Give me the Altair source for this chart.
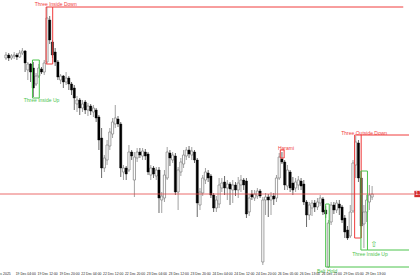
import altair as alt
import pandas as pd

# ---- candle data (H1 bars) ----
open_ = [1.17760,1.17775,1.17760,1.17770,1.17775,1.17765,1.17785,1.17795,1.17700,1.17730,
         1.17710,1.17630,1.17670,1.17705,1.17690,1.17740,1.17950,1.17840,1.17790,1.17740,
         1.17650,1.17670,1.17640,1.17660,1.17630,1.17610,1.17530,1.17550,1.17510,1.17540,
         1.17500,1.17520,1.17490,1.17500,1.17465,1.17360,1.17210,1.17250,1.17320,1.17380,
         1.17430,1.17455,1.17430,1.17190,1.17210,1.17200,1.17290,1.17150,1.17260,1.17290,
         1.17270,1.17290,1.17280,1.17175,1.17210,1.17170,1.17200,1.17050,1.17060,1.17160,
         1.17285,1.17250,1.17270,1.17090,1.17190,1.17230,1.17270,1.17300,1.17275,1.17290,
         1.17250,1.17025,1.17085,1.17150,1.17185,1.17170,1.17075,1.17010,1.17030,1.17110,
         1.17140,1.17110,1.17130,1.17100,1.17125,1.17100,1.17125,1.17150,1.17145,1.16990,
         1.17080,1.17060,1.17070,1.17095,1.16740,1.17050,1.17065,1.17050,1.17070,1.17060,
         1.17160,1.17255,1.17240,1.17120,1.17190,1.17135,1.17110,1.17125,1.17145,1.17130,
         1.17040,1.16975,1.17010,1.17035,1.17015,1.17035,1.17055,1.17000,1.16715,1.16940,
         1.17025,1.17000,1.17030,1.17015,1.16960,1.16900,1.16870,1.16995,1.17225,1.17335,
         1.17160,1.16930,1.16990,1.17040,1.17065]
close = [1.17775,1.17760,1.17770,1.17775,1.17765,1.17785,1.17795,1.17735,1.17730,1.17690,
         1.17610,1.17670,1.17710,1.17690,1.17735,1.17960,1.17850,1.17775,1.17740,1.17665,
         1.17670,1.17640,1.17660,1.17630,1.17600,1.17560,1.17550,1.17510,1.17530,1.17500,
         1.17520,1.17495,1.17510,1.17460,1.17350,1.17210,1.17260,1.17325,1.17390,1.17440,
         1.17460,1.17430,1.17210,1.17210,1.17180,1.17290,1.17270,1.17265,1.17290,1.17275,
         1.17295,1.17270,1.17190,1.17210,1.17180,1.17200,1.17060,1.17070,1.17175,1.17290,
         1.17260,1.17275,1.17090,1.17200,1.17240,1.17275,1.17300,1.17280,1.17295,1.17250,
         1.17035,1.17090,1.17160,1.17190,1.17160,1.17075,1.17010,1.17050,1.17125,1.17135,
         1.17110,1.17130,1.17105,1.17125,1.17100,1.17135,1.17150,1.17125,1.16980,1.17060,
         1.17065,1.17080,1.17095,1.17070,1.17050,1.17065,1.17050,1.17070,1.17055,1.17160,
         1.17265,1.17240,1.17125,1.17200,1.17110,1.17100,1.17140,1.17150,1.17120,1.17040,
         1.16975,1.17025,1.17035,1.17015,1.17040,1.17060,1.16990,1.16980,1.16935,1.17025,
         1.17000,1.17035,1.17010,1.16950,1.16890,1.16860,1.16990,1.17235,1.17340,1.17160,
         1.16920,1.16990,1.17050,1.17075,1.17080]
high = [1.17790,1.17785,1.17780,1.17790,1.17785,1.17800,1.17810,1.17800,1.17740,1.17735,
        1.17740,1.17685,1.17730,1.17715,1.17750,1.18015,1.17970,1.17850,1.17810,1.17750,
        1.17680,1.17675,1.17690,1.17670,1.17640,1.17625,1.17570,1.17560,1.17550,1.17550,
        1.17535,1.17530,1.17525,1.17510,1.17475,1.17410,1.17275,1.17350,1.17410,1.17460,
        1.17525,1.17470,1.17440,1.17225,1.17220,1.17325,1.17300,1.17290,1.17310,1.17310,
        1.17310,1.17305,1.17290,1.17225,1.17220,1.17215,1.17215,1.17090,1.17200,1.17315,
        1.17300,1.17290,1.17285,1.17215,1.17260,1.17300,1.17315,1.17320,1.17315,1.17300,
        1.17260,1.17110,1.17175,1.17210,1.17200,1.17180,1.17085,1.17070,1.17160,1.17160,
        1.17170,1.17150,1.17140,1.17150,1.17140,1.17165,1.17175,1.17160,1.17160,1.17080,
        1.17100,1.17100,1.17110,1.17105,1.17065,1.17085,1.17080,1.17090,1.17085,1.17175,
        1.17285,1.17290,1.17250,1.17225,1.17200,1.17165,1.17160,1.17170,1.17160,1.17150,
        1.17050,1.17040,1.17050,1.17050,1.17060,1.17075,1.17065,1.17020,1.16950,1.17040,
        1.17040,1.17050,1.17050,1.17025,1.16975,1.16920,1.17025,1.17250,1.17370,1.17350,
        1.17195,1.17025,1.17075,1.17125,1.17120]
low = [1.17750,1.17745,1.17750,1.17755,1.17750,1.17760,1.17775,1.17690,1.17650,1.17640,
       1.17565,1.17620,1.17660,1.17680,1.17675,1.17730,1.17830,1.17760,1.17720,1.17650,
       1.17630,1.17610,1.17625,1.17600,1.17575,1.17500,1.17490,1.17475,1.17490,1.17480,
       1.17470,1.17475,1.17465,1.17440,1.17300,1.17160,1.17190,1.17225,1.17300,1.17360,
       1.17410,1.17415,1.17165,1.17150,1.17150,1.17190,1.17250,1.17065,1.17240,1.17260,
       1.17250,1.17250,1.17175,1.17150,1.17160,1.17150,1.16985,1.16985,1.17040,1.17150,
       1.17220,1.17235,1.17075,1.17000,1.17170,1.17210,1.17250,1.17260,1.17250,1.17235,
       1.16965,1.17000,1.17070,1.17130,1.17140,1.17060,1.16990,1.16990,1.17010,1.17090,
       1.17075,1.17050,1.17025,1.17035,1.17070,1.17060,1.17090,1.17100,1.16960,1.16970,
       1.17050,1.17045,1.17055,1.17060,1.16725,1.16975,1.16965,1.16975,1.17025,1.17040,
       1.17150,1.17230,1.17100,1.17100,1.17090,1.17075,1.17090,1.17100,1.17100,1.17025,
       1.16915,1.16950,1.16970,1.16990,1.17000,1.17020,1.16975,1.16960,1.16710,1.16925,
       1.16980,1.16985,1.16975,1.16935,1.16860,1.16850,1.16860,1.16985,1.17160,1.17140,
       1.16860,1.16810,1.16940,1.17000,1.17050]

# ---- time axis labels (bar index -> label) ----
x_tick_idx = [3, 11, 19, 27, 35, 43, 51, 59, 67, 75, 83, 91, 99, 107, 115, 123, 131]
x_tick_labels = ["19 Dec 04:00", "19 Dec 12:00", "19 Dec 20:00", "22 Dec 04:00",
                 "22 Dec 12:00", "22 Dec 20:00", "23 Dec 04:00", "23 Dec 12:00",
                 "23 Dec 20:00", "24 Dec 04:00", "24 Dec 12:00", "24 Dec 20:00",
                 "26 Dec 05:00", "26 Dec 13:00", "26 Dec 21:00", "29 Dec 05:00",
                 "29 Dec 13:00"]
first_label = "18 Dec 2025"

y_tick_vals = [1.18000, 1.17943, 1.17886, 1.17829, 1.17772, 1.17715, 1.17658, 1.17601,
               1.17544, 1.17487, 1.17430, 1.17373, 1.17316, 1.17259, 1.17202, 1.17145,
               1.17088, 1.17031, 1.16974, 1.16917, 1.16860, 1.16803, 1.16746]

# ---- pattern annotations ----
RED = "#f03c3c"
GREEN = "#4cc44c"

pat_names = ["Three Inside Down", "Three Inside Up", "Harami", "Three Outside Down",
             "Three Inside Up", "Belt Hold"]
pat_color = [RED, GREEN, RED, RED, GREEN, GREEN]
pat_x1 = [14.7, 9.7, 100.4, 127.6, 129.9, 117.0]
pat_x2 = [17.1, 12.2, 101.8, 130.0, 132.3, 118.3]
pat_top = [1.18015, 1.17750, 1.17300, 1.17375, 1.17195, 1.17030]
pat_bot = [1.17730, 1.17560, 1.17260, 1.16860, 1.16800, 1.16715]
label_x = [18.2, 13.0, 102.5, 131.1, 133.2, 117.5]
label_y = [1.18030, 1.17550, 1.17310, 1.17385, 1.16778, 1.16695]

line_x1 = [17.1, 130.0, 132.3, 118.3]
line_x2 = [145.4, 147.5, 147.5, 147.5]
line_y = [1.18015, 1.17375, 1.16800, 1.16715]
line_color = [RED, RED, GREEN, GREEN]

arrow_x = [134.6]
arrow_y = [1.16825]

candles = pd.DataFrame({"i": list(range(len(open_))), "open": open_, "close": close,
                        "high": high, "low": low})
candles["dir"] = ["bull" if c > o else "bear" for o, c in zip(open_, close)]
candles["wick"] = ["#8a8a8a" if d == "bull" else "#444444" for d in candles["dir"]]

pats = pd.DataFrame({"name": pat_names, "col": pat_color, "x1": pat_x1, "x2": pat_x2,
                     "top": pat_top, "bot": pat_bot, "lx": label_x, "ly": label_y})
lines = pd.DataFrame({"x1": line_x1, "x2": line_x2, "y": line_y, "col": line_color})
xlab = pd.DataFrame({"i": x_tick_idx, "label": x_tick_labels})
first = pd.DataFrame({"i": [x_tick_idx[0]], "label": [first_label]})
last = pd.DataFrame({"p": [close[-1]], "label": [f"{close[-1]:.5f}"]})
arrows = pd.DataFrame({"x": arrow_x, "y": arrow_y, "t": ["\u21e7"]})

xs = alt.Scale(domain=[-0.357, 147.5], nice=False, zero=False)
ys = alt.Scale(domain=[1.16710, 1.18050], nice=False, zero=False)

wicks = alt.Chart(candles).mark_rule(strokeWidth=0.8).encode(
    x=alt.X("i:Q", scale=xs, axis=alt.Axis(values=x_tick_idx, labels=False, grid=True,
            gridDash=[1, 2], gridColor="#c4c4c4", tickSize=3, tickColor="#000",
            domainColor="#000", title=None)),
    y=alt.Y("low:Q", scale=ys, axis=alt.Axis(orient="right", values=y_tick_vals,
            format=".5f", labelFontSize=4.6, labelColor="#222", labelPadding=1,
            tickSize=2, tickColor="#000", domainColor="#000", grid=True,
            gridDash=[1, 2], gridColor="#c4c4c4", title=None, labelFont="Liberation Sans")),
    y2="high:Q",
    color=alt.Color("wick:N", scale=None, legend=None),
)

bull_body = alt.Chart(candles).transform_filter(alt.datum.dir == "bull").mark_bar(
    size=2.2, fill="#ffffff", stroke="#8a8a8a", strokeWidth=0.8).encode(
    x=alt.X("i:Q", scale=xs, axis=None),
    y=alt.Y("open:Q", scale=ys, axis=None), y2="close:Q")

bear_body = alt.Chart(candles).transform_filter(alt.datum.dir == "bear").mark_bar(
    size=2.2, fill="#000000", stroke="#000000", strokeWidth=0.4).encode(
    x=alt.X("i:Q", scale=xs, axis=None),
    y=alt.Y("open:Q", scale=ys, axis=None), y2="close:Q")

price_line = alt.Chart(last).mark_rule(color="#e64848", strokeWidth=0.8).encode(
    y=alt.Y("p:Q", scale=ys, axis=None), x=alt.value(0), x2=alt.value(414))

boxes = alt.Chart(pats).mark_rect(fillOpacity=0, strokeWidth=1).encode(
    x=alt.X("x1:Q", scale=xs, axis=None), x2="x2:Q",
    y=alt.Y("top:Q", scale=ys, axis=None), y2="bot:Q",
    stroke=alt.Stroke("col:N", scale=None, legend=None))

ext = alt.Chart(lines).mark_rule(strokeWidth=1).encode(
    x=alt.X("x1:Q", scale=xs, axis=None), x2="x2:Q",
    y=alt.Y("y:Q", scale=ys, axis=None),
    color=alt.Color("col:N", scale=None, legend=None))

pat_text = alt.Chart(pats).mark_text(fontSize=5, font="Liberation Sans",
                                      baseline="middle").encode(
    x=alt.X("lx:Q", scale=xs, axis=None), y=alt.Y("ly:Q", scale=ys, axis=None),
    text="name:N", color=alt.Color("col:N", scale=None, legend=None))

arrow = alt.Chart(arrows).mark_text(fontSize=8, font="DejaVu Sans", color=GREEN,
                                     baseline="middle").encode(
    x=alt.X("x:Q", scale=xs, axis=None), y=alt.Y("y:Q", scale=ys, axis=None), text="t:N")

xlabels = alt.Chart(xlab).mark_text(fontSize=3.4, font="Liberation Sans", align="left",
                                     baseline="middle", dx=1.5, color="#222").encode(
    x=alt.X("i:Q", scale=xs, axis=None), y=alt.value(274), text="label:N")

xfirst = alt.Chart(first).mark_text(fontSize=3.4, font="Liberation Sans", align="right",
                                     baseline="middle", dx=-3.5, color="#222").encode(
    x=alt.X("i:Q", scale=xs, axis=None), y=alt.value(274), text="label:N")

pbox = alt.Chart(last).mark_point(shape="square", size=40, filled=True, opacity=1,
                                   color="#d42a2a").encode(
    x=alt.value(417.5), y=alt.Y("p:Q", scale=ys, axis=None))

ptext = alt.Chart(last).mark_text(fontSize=4.6, font="Liberation Sans", align="left",
                                   baseline="middle", color="#ffffff").encode(
    x=alt.value(415.5), y=alt.Y("p:Q", scale=ys, axis=None), text="label:N")

chart = alt.layer(wicks, bull_body, bear_body, price_line, boxes, ext, pat_text, arrow,
                  xlabels, xfirst, pbox, ptext).properties(
    width=414, height=268,
    padding={"left": 0, "top": 0, "right": 6, "bottom": 12},
    autosize=alt.AutoSizeParams(type="none"),
    background="#ffffff",
).configure_view(stroke="transparent")

chart.save("out.html", embed_options={"renderer": "svg", "actions": False})
